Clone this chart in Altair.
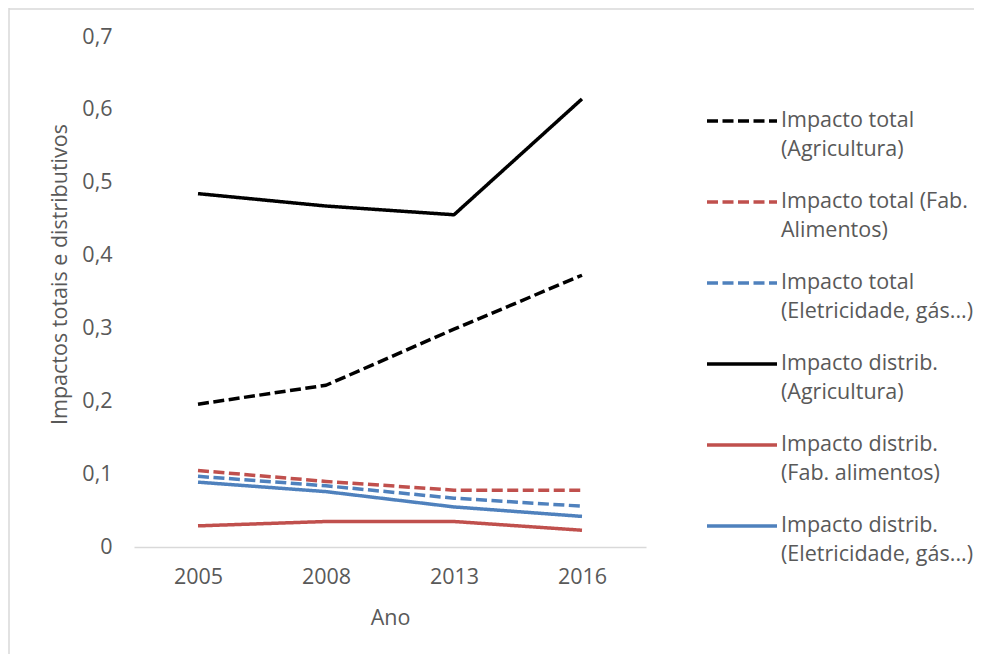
import altair as alt
import pandas as pd

years = ["2005", "2008", "2013", "2016"]

series = [
    "Impacto total|(Agricultura)",
    "Impacto total (Fab.|Alimentos)",
    "Impacto total|(Eletricidade, gás...)",
    "Impacto distrib.|(Agricultura)",
    "Impacto distrib.|(Fab. alimentos)",
    "Impacto distrib.|(Eletricidade, gás...)",
]

total_agricultura = [0.196, 0.222, 0.299, 0.373]
total_fab_alimentos = [0.105, 0.090, 0.078, 0.078]
total_eletricidade = [0.097, 0.084, 0.067, 0.056]
distrib_agricultura = [0.485, 0.468, 0.456, 0.615]
distrib_fab_alimentos = [0.029, 0.035, 0.035, 0.023]
distrib_eletricidade = [0.089, 0.076, 0.055, 0.042]

values = [
    total_agricultura,
    total_fab_alimentos,
    total_eletricidade,
    distrib_agricultura,
    distrib_fab_alimentos,
    distrib_eletricidade,
]

colors = ["#000000", "#C0504D", "#4F81BD", "#000000", "#C0504D", "#4F81BD"]
dashes = [[11, 4.5], [11, 4.5], [11, 4.5], [1, 0], [1, 0], [1, 0]]

rows = []
for name, vals in zip(series, values):
    for yr, v in zip(years, vals):
        rows.append({"Ano": yr, "Série": name, "valor": v})
df = pd.DataFrame(rows)

FONT = "Open Sans"
TXT = "#595959"
FS = 21.5

legend_kw = dict(
    title=None,
    orient="none",
    legendX=571,
    legendY=47,
    symbolType="stroke",
    symbolSize=4900,
    symbolStrokeWidth=3.5,
    labelOffset=2,
    labelExpr="split(datum.label, '|')",
    labelBaseline="middle",
    labelLimit=400,
    rowPadding=4,
    padding=0,
)

lines = alt.Chart(df).mark_line(strokeWidth=3.5, strokeJoin="round").encode(
    x=alt.X(
        "Ano:O",
        scale=alt.Scale(type="point", padding=0.5),
        axis=alt.Axis(
            title="Ano",
            labelAngle=0,
            ticks=False,
            domainColor="#D9D9D9",
            domainWidth=1.5,
            labelPadding=19,
            titlePadding=20,
        ),
    ),
    y=alt.Y(
        "valor:Q",
        scale=alt.Scale(domain=[0, 0.7]),
        axis=alt.Axis(
            title="Impactos totais e distributivos",
            values=[0, 0.1, 0.2, 0.3, 0.4, 0.5, 0.6, 0.7],
            labelExpr="datum.value == 0 ? '0' : replace(format(datum.value, '.1f'), '.', ',')",
            grid=False,
            ticks=False,
            domain=False,
            labelPadding=22,
            titleX=-74,
            titleY=237,
            titleAngle=270,
            titleBaseline="middle",
            titleAlign="center",
        ),
    ),
    color=alt.Color(
        "Série:N",
        scale=alt.Scale(domain=series, range=colors),
        legend=alt.Legend(**legend_kw),
    ),
    strokeDash=alt.StrokeDash(
        "Série:N",
        scale=alt.Scale(domain=series, range=dashes),
        legend=alt.Legend(**legend_kw),
    ),
    order=alt.Order("Série:N"),
)

frame_df = pd.DataFrame({"k": [0]})
left_border = alt.Chart(frame_df).mark_rule(color="#D9D9D9", strokeWidth=1.5).encode(
    x=alt.value(-125), y=alt.value(-29), y2=alt.value(700)
)
top_border = alt.Chart(frame_df).mark_rule(color="#D9D9D9", strokeWidth=1.5).encode(
    x=alt.value(-125), x2=alt.value(1000), y=alt.value(-28)
)

chart = (
    alt.layer(left_border, top_border, lines)
    .properties(
        width=512,
        height=510,
        autosize=alt.AutoSizeParams(type="none"),
        padding={"left": 126, "top": 29, "right": 328, "bottom": 107},
        background="white",
    )
    .configure(style={"guide-label": {"lineHeight": 29}})
    .configure_view(stroke=None)
    .configure_axis(
        labelFont=FONT,
        titleFont=FONT,
        labelFontSize=FS,
        titleFontSize=FS,
        labelColor=TXT,
        titleColor=TXT,
        titleFontWeight="normal",
    )
    .configure_legend(
        labelFont=FONT,
        labelFontSize=FS,
        labelColor=TXT,
    )
)

chart.save("out.html", embed_options={"renderer": "svg", "actions": False})
